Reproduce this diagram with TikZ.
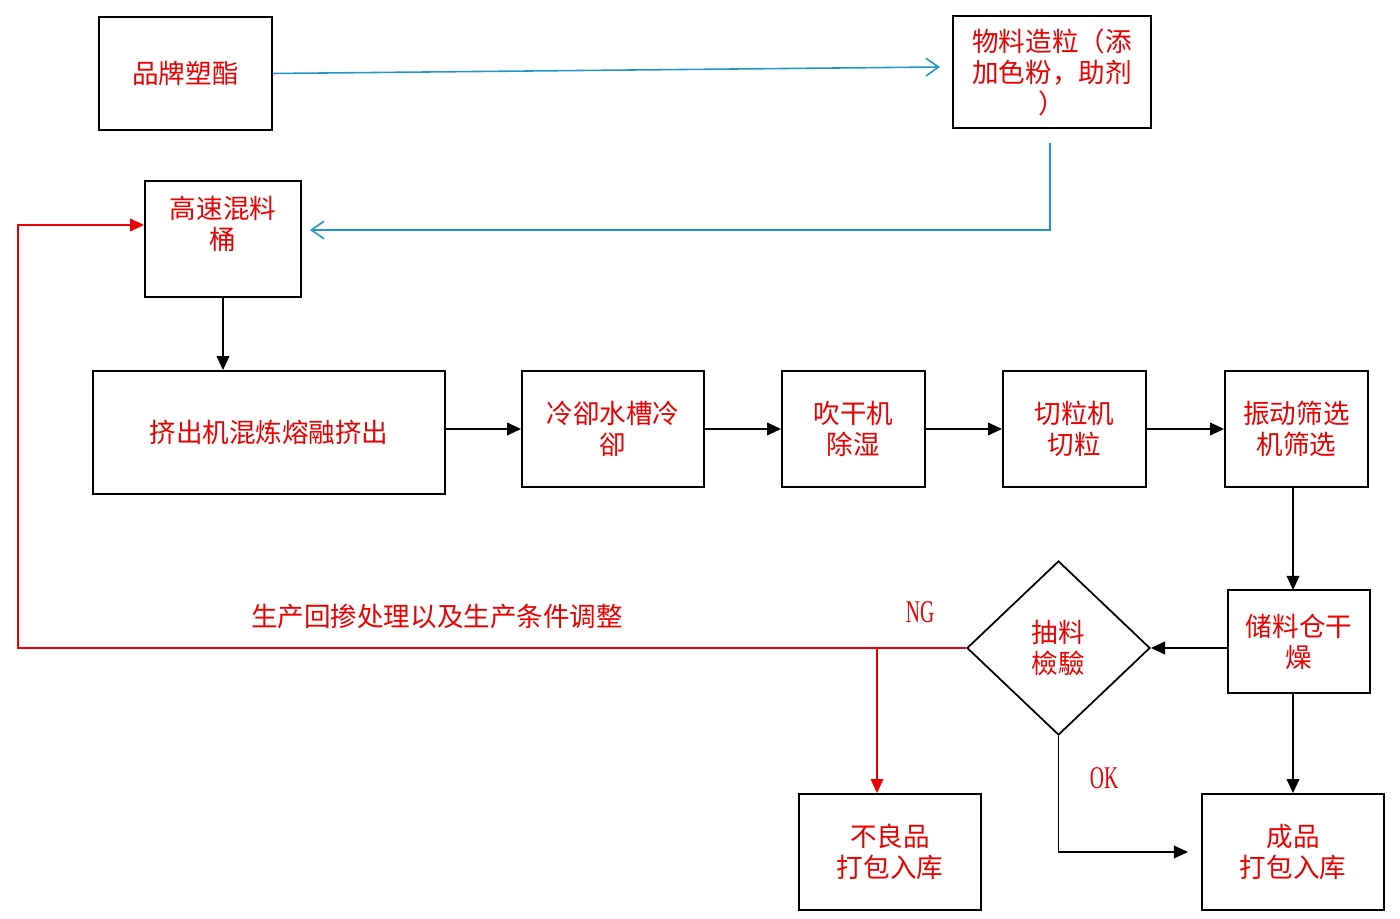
\documentclass[tikz,border=0pt]{standalone}
\usepackage{fontspec}
\usepackage{graphicx}
\setmainfont{Noto Sans CJK SC}
\newfontfamily\latinfont{Liberation Serif}
\usetikzlibrary{arrows.meta, shapes.geometric}
\definecolor{flowblue}{RGB}{33,150,201}
\definecolor{flowred}{RGB}{235,0,0}
\tikzset{>={Triangle[length=4pt,width=3.6pt]}}

\begin{document}
\begin{tikzpicture}[x=0.01cm, y=-0.01cm, line width=0.5pt,
    every node/.style={font=\fontsize{7.55}{8.8}\selectfont, text=flowred, align=center},
    box/.style={draw=black, rectangle, inner sep=0pt},
    txt/.style={inner sep=0pt},
    tag/.style={inner sep=0pt, font=\fontsize{9}{9}\latinfont},
    openarrow/.style={draw=flowblue, line width=0.45pt, -{Straight Barb[length=3.6pt,width=5pt]}}]
    \useasboundingbox (0,0) rectangle (1400,919);

    % top row
    \node[box, minimum width=1.73cm, minimum height=1.13cm] (pinpai) at (185.5,73.5) {品牌塑酯};
    \node[box, minimum width=1.98cm, minimum height=1.12cm] (zaoli) at (1052,72) {物料造粒（添\\加色粉，助剂\\）};

    % mixer
    \node[box, minimum width=1.56cm, minimum height=1.16cm] (hunliao) at (223,239) {};
    \node[txt] (hunliaoT) at (223,224) {高速混料\\桶};

    % process line
    \node[box, minimum width=3.52cm, minimum height=1.23cm] (jichu) at (269,432.5) {挤出机混炼熔融挤出};
    \node[box, minimum width=1.82cm, minimum height=1.16cm] (lengque) at (613,429) {冷卻水槽冷\\卻};
    \node[box, minimum width=1.43cm, minimum height=1.16cm] (chuigan) at (853.5,429) {吹干机\\除湿};
    \node[box, minimum width=1.43cm, minimum height=1.16cm] (qieli) at (1074.5,429) {切粒机\\切粒};
    \node[box, minimum width=1.43cm, minimum height=1.16cm] (shaixuan) at (1296.5,429) {振动筛选\\机筛选};

    % storage and check
    \node[box, minimum width=1.42cm, minimum height=1.03cm] (chuliao) at (1299,641.5) {储料仓干\\燥};
    \node[draw=black, diamond, aspect=1.05, minimum width=1.83cm, minimum height=1.74cm, inner sep=0pt] (jianyan) at (1058.5,648) {抽料\\檢驗};

    % outputs
    \node[box, minimum width=1.82cm, minimum height=1.16cm] (buliang) at (890,852) {不良品\\打包入库};
    \node[box, minimum width=1.82cm, minimum height=1.16cm] (chengpin) at (1293,852) {成品\\打包入库};

    % labels
    \node[txt] (huichan) at (437,616) {生产回掺处理以及生产条件调整};
    \node[tag] (ng) at (920,612) {\scalebox{0.62}[1]{NG}};
    \node[tag] (ok) at (1104,778) {\scalebox{0.62}[1]{OK}};

    % blue feed
    \coordinate (zaoliIn) at (940,67);
    \draw[openarrow] (pinpai.east) -- (zaoliIn);
    \coordinate (zaoliB) at (1050,143);
    \coordinate (turn) at (1050,230);
    \coordinate (hunliaoIn) at (310,230);
    \draw[openarrow] (zaoliB) -- (turn) -- (hunliaoIn);

    % black flow
    \draw[->] (hunliao.south) -- (hunliao.south |- jichu.north);
    \draw[->] (jichu.east |- lengque.west) -- (lengque.west);
    \draw[->] (lengque.east) -- (chuigan.west);
    \draw[->] (chuigan.east) -- (qieli.west);
    \draw[->] (qieli.east) -- (shaixuan.west);
    \draw[->] (1293,487) -- (1293,590);
    \draw[->] (chuliao.west |- jianyan.east) -- (jianyan.east);
    \draw[->] (1293,693) -- (chengpin.north);
    \coordinate (okturn) at (1058.5,852);
    \coordinate (okend) at (1188,852);
    \draw[->] (jianyan.south) -- (okturn) -- (okend);

    % red return
    \coordinate (ngsplit) at (877,648);
    \coordinate (leftdown) at (18,648);
    \coordinate (leftup) at (18,225);
    \draw[flowred, ->] (jianyan.west) -- (leftdown) -- (leftup) -- (hunliao.west |- leftup);
    \draw[flowred, ->] (ngsplit) -- (ngsplit |- buliang.north);

\end{tikzpicture}
\end{document}
